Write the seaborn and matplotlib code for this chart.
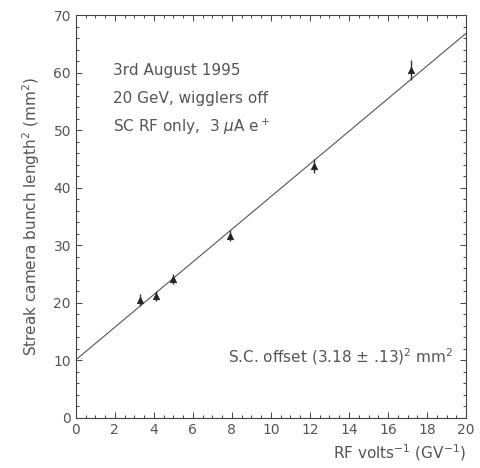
import numpy as np
import seaborn as sns
import matplotlib.pyplot as plt
from matplotlib.ticker import MultipleLocator

# Dati
rf_inv = [3.3, 4.1, 5.0, 7.9, 12.2, 17.2]
bunch_len2 = [20.5, 21.2, 24.2, 31.7, 43.8, 60.5]
err = [1.0, 0.9, 0.9, 1.0, 1.2, 1.8]

# Retta di fit
fit_x = [0, 20]
intercetta = 10.1
pendenza = 2.84

sns.set_style("ticks")
plt.rcParams['font.family'] = ['DejaVu Sans']
grigio = "#555555"

fig = plt.figure(figsize=(4.8, 4.68), dpi=100)
ax = fig.add_axes([0.158, 0.107, 0.813, 0.860])

fit_y = [intercetta + pendenza * x for x in fit_x]
sns.lineplot(x=fit_x, y=fit_y, ax=ax, color="#555555", linewidth=0.8)
ax.errorbar(rf_inv, bunch_len2, yerr=err, fmt="none", ecolor="#333333",
            elinewidth=1.0, capsize=0)
sns.scatterplot(x=rf_inv, y=bunch_len2, ax=ax, marker="^", color="#222222",
                s=22, edgecolor="#222222", linewidth=0.5, zorder=3)

ax.set_xlim(0, 20)
ax.set_ylim(0, 70)
ax.xaxis.set_major_locator(MultipleLocator(2))
ax.xaxis.set_minor_locator(MultipleLocator(0.5))
ax.yaxis.set_major_locator(MultipleLocator(10))
ax.yaxis.set_minor_locator(MultipleLocator(2))
ax.tick_params(which="both", direction="in", top=True, right=True,
               labelcolor=grigio, labelsize=10, width=0.7, color="#444444")
ax.tick_params(which="major", length=4.5)
ax.tick_params(which="minor", length=2.5)
for s in ax.spines.values():
    s.set_linewidth(0.8)
    s.set_color("#444444")

ax.set_ylabel(r"Streak camera bunch length$^2$ (mm$^2$)", color=grigio,
              fontsize=11, labelpad=8)
ax.set_xlabel(r"RF volts$^{-1}$ (GV$^{-1}$)", color=grigio, fontsize=11,
              loc="right", labelpad=4)

testo = ["3rd August 1995", "20 GeV, wigglers off", r"SC RF only,  3 $\mu$A e$^+$"]
for i, riga in enumerate(testo):
    ax.text(1.9, 60.4 - i * 4.9, riga, color=grigio, fontsize=11, va="center")
ax.text(7.8, 10.7, r"S.C. offset (3.18 $\pm$ .13)$^2$ mm$^2$", color=grigio,
        fontsize=11, va="center")

plt.savefig("out.png", dpi=100)
